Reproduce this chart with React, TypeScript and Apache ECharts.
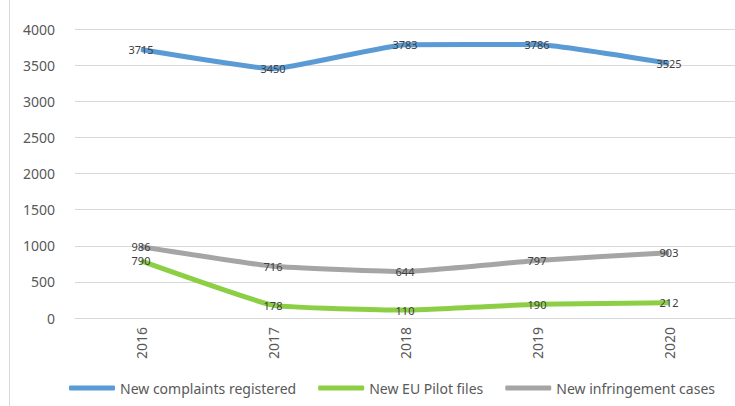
import React, { useEffect, useRef } from "react";
import * as echarts from "echarts";

const years = ["2016", "2017", "2018", "2019", "2020"];
const complaints = [3715, 3450, 3783, 3786, 3525];
const euPilot = [790, 178, 110, 190, 212];
const infringement = [986, 716, 644, 797, 903];
const yTicks = { min: 0, max: 4000, interval: 500 };

const FONT = "'Noto Sans', sans-serif";

export default function App() {
  const ref = useRef<HTMLDivElement>(null);
  useEffect(() => {
    const chart = echarts.init(ref.current!, undefined, { renderer: "svg" });
    const mk = (name: string, data: number[], color: string) => ({
      name,
      type: "line",
      data,
      smooth: 0.12,
      symbol: "circle",
      symbolSize: 1,
      showSymbol: true,
      lineStyle: { width: 5, color },
      itemStyle: { color },
      labelLayout: { hideOverlap: false },
      label: {
        show: true,
        position: "inside",
        fontFamily: FONT,
        fontSize: 11,
        color: "#404040",
      },
    });
    chart.setOption({
      animation: false,
      textStyle: { fontFamily: FONT },
      grid: { left: 75, right: -20, top: 29, bottom: 88, containLabel: false },
      legend: {
        bottom: 6,
        left: 64,
        itemWidth: 46,
        itemHeight: 5,
        itemGap: 22,
        icon: "roundRect",
        textStyle: { fontFamily: FONT, fontSize: 14, color: "#595959" },
        data: ["New complaints registered", "New EU Pilot files", "New infringement cases"],
      },
      xAxis: {
        type: "category",
        data: years,
        axisLine: { show: true, lineStyle: { color: "#D9D9D9" } },
        axisTick: { show: false },
        axisLabel: { rotate: 90, fontFamily: FONT, fontSize: 14, color: "#595959", margin: 9 },
      },
      yAxis: {
        type: "value",
        ...yTicks,
        axisLine: { show: false },
        axisTick: { show: false },
        splitLine: { lineStyle: { color: "#D9D9D9", width: 1 } },
        axisLabel: {
          fontFamily: FONT,
          fontSize: 14,
          color: "#595959",
          margin: 20,
          formatter: (v: number) => String(v),
        },
      },
      graphic: [
        {
          type: "line",
          shape: { x1: 9.5, y1: 0, x2: 9.5, y2: 406 },
          style: { stroke: "#D9D9D9", lineWidth: 1 },
        },
      ],
      series: [
        mk("New complaints registered", complaints, "#5B9BD5"),
        mk("New EU Pilot files", euPilot, "#8CCF45"),
        mk("New infringement cases", infringement, "#A5A5A5"),
      ],
    });
    return () => chart.dispose();
  }, []);
  return (
    <div
      ref={ref}
      style={{ position: "absolute", left: 0, top: 0, width: 735, height: 406, background: "#fff" }}
    />
  );
}
